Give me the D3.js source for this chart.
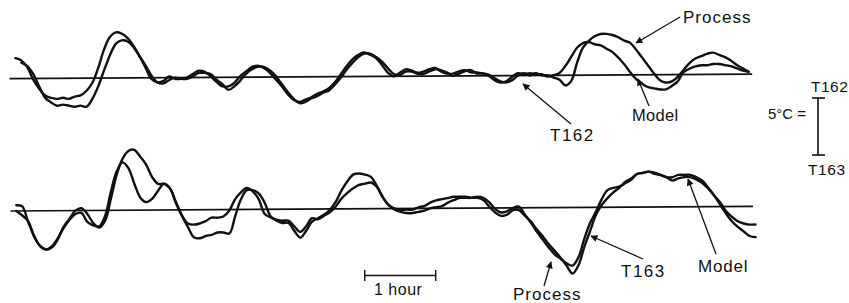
<!DOCTYPE html>
<html>
<head>
<meta charset="utf-8">
<script src="https://cdn.jsdelivr.net/npm/d3@7"></script>
<style>
  body { margin: 0; background: #fff; }
  text { font-family: 'Liberation Sans', Arial, sans-serif; fill: #111; }
</style>
</head>
<body>
<script>
// time axis, minutes, one reading every 5 min
var minutes = d3.range(0, 635, 5)

// temperature deviation from set point, deg C
// upper panel: thermocouple T162
var t162Model = [null,
  1.8, 1.6, 1.0, -0.1, -0.9, -1.5, -1.7, -1.8, -1.7, -1.8,
  -1.6, -1.5, -1.1, -0.4, 0.9, 2.5, 3.6, 4.0, 3.9, 3.5,
  2.8, 1.9, 0.9, -0.1, -0.4, -0.3, 0.1, -0.1, -0.1, 0.0,
  0.3, 0.6, 0.5, 0.1, -0.4, -0.8, -0.8, -0.5, 0.1, 0.5,
  0.9, 1.0, 0.8, 0.4, -0.2, -0.8, -1.5, -2.0, -2.2, -2.0,
  -1.8, -1.5, -1.3, -1.0, -0.5, 0.2, 0.9, 1.5, 1.9, 2.1,
  1.9, 1.6, 1.0, 0.3, 0.0, 0.3, 0.6, 0.5, 0.3, 0.4,
  0.6, 0.7, 0.4, 0.2, 0.2, 0.4, 0.5, 0.3, 0.3, 0.2,
  0.0, -0.4, -0.6, -0.5, -0.1, 0.2, 0.1, 0.2, 0.1, 0.1,
  -0.1, 0.0, 0.2, 0.8, 1.6, 2.4, 2.8, 2.9, 2.7, 2.6,
  2.3, 2.0, 1.5, 0.9, 0.2, -0.4, -0.8, -1.1, -1.2, -1.3,
  -1.3, -1.0, -0.6, 0.2, 0.5, 0.7, 0.8, 0.8, 0.9, 0.9,
  0.8, 0.7, 0.5, 0.3, 0.2, null]

var t162Process = [null,
  null, 1.4, 1.1, 0.4, -0.7, -1.7, -2.1, -2.4, -2.3, -2.4,
  -2.5, -2.4, -2.5, -1.8, -0.7, 0.7, 2.0, 3.0, 3.3, 3.2,
  2.7, 1.9, 1.1, 0.2, -0.4, -0.5, -0.2, 0.0, -0.1, -0.1,
  0.1, 0.4, 0.4, 0.3, -0.2, -0.6, -1.1, -0.8, -0.3, 0.3,
  0.7, 0.9, 0.9, 0.6, 0.1, -0.6, -1.3, -1.9, -2.3, -2.2,
  -1.9, -1.7, -1.4, -1.2, -0.7, -0.1, 0.6, 1.2, 1.7, 2.0,
  2.0, 1.7, 1.3, 0.7, 0.2, 0.1, 0.4, 0.4, 0.2, 0.2,
  0.4, 0.6, 0.5, 0.3, 0.0, 0.2, 0.4, 0.5, 0.2, 0.2,
  0.1, -0.2, -0.5, -0.6, -0.4, 0.0, 0.2, 0.0, 0.2, 0.0,
  0.0, -0.2, -0.4, -0.9, -0.5, 1.1, 2.4, 3.0, 3.4, 3.6,
  3.6, 3.5, 3.3, 3.0, 2.8, 2.2, 1.5, 0.8, 0.1, -0.5,
  -0.7, -0.6, -0.2, 0.4, 1.0, 1.4, 1.6, 1.8, 1.9, 1.7,
  1.5, 1.2, 0.8, 0.5, 0.2, null]

// lower panel: thermocouple T163
var t163Model = [null,
  0.0, -0.4, -0.9, -2.3, -3.1, -3.4, -3.1, -2.4, -1.5, -0.8,
  -0.3, -0.2, -1.0, -1.3, -1.4, -0.5, 1.6, 3.4, 4.2, 3.7,
  2.3, 1.1, 0.7, 1.0, 1.7, 2.3, 1.9, 0.6, -0.5, -1.2,
  -1.3, -1.2, -1.0, -0.7, -0.7, -0.6, -0.1, 0.9, 1.5, 1.9,
  1.6, 0.9, -0.4, -0.7, -0.9, -1.0, -1.0, -1.5, -2.0, -1.5,
  -0.8, -0.9, -0.6, -0.3, 0.2, 0.9, 1.4, 1.8, 2.1, 2.2,
  2.3, 1.9, 1.0, 0.3, -0.1, -0.3, -0.4, -0.4, -0.3, -0.2,
  0.0, 0.1, 0.2, 0.5, 0.7, 0.9, 0.9, 0.9, 1.0, 0.9,
  0.5, -0.1, -0.4, -0.3, 0.0, 0.1, -0.6, -1.3, -2.1, -2.8,
  -3.5, -4.1, -4.5, -4.9, -5.1, -4.4, -2.8, -1.4, -0.4, 0.7,
  1.5, 1.7, 1.8, 2.1, 2.4, 2.9, 3.0, 3.1, 2.9, 2.8,
  2.6, 2.6, 2.8, 2.8, 2.8, 2.6, 2.3, 1.7, 1.0, 0.4,
  -0.4, -0.9, -1.3, -1.5, -1.6, -1.6]

var t163Process = [null,
  0.5, 0.4, -1.0, -2.2, -3.1, -3.4, -3.2, -2.5, -1.4, -0.7,
  0.0, 0.2, -0.3, -1.1, -1.5, -0.9, 1.0, 3.1, 4.5, 5.2,
  5.3, 4.7, 4.0, 2.9, 2.3, 2.3, 1.9, 0.7, -0.5, -1.5,
  -2.4, -2.5, -2.3, -2.2, -2.0, -2.0, -2.1, -0.6, 0.9, 1.7,
  1.7, 1.4, 0.6, -0.6, -1.0, -1.2, -1.2, -1.9, -2.5, -1.9,
  -1.1, -0.8, -0.5, -0.1, 0.6, 1.6, 2.4, 3.0, 3.1, 3.0,
  2.8, 2.0, 1.0, 0.3, 0.0, -0.1, -0.1, -0.1, 0.1, 0.2,
  0.5, 0.7, 0.8, 0.9, 1.0, 1.0, 1.0, 0.9, 0.9, 0.7,
  0.1, -0.4, -0.7, -0.6, -0.2, -0.2, -0.7, -1.2, -1.9, -2.5,
  -3.2, -3.8, -4.4, -5.1, -5.8, -5.1, -3.5, -2.1, -0.7, 0.2,
  0.8, 1.3, 1.7, 2.2, 2.5, 2.9, 3.0, 3.1, 3.0, 2.8,
  2.6, 2.3, 2.5, 2.6, 2.6, 2.4, 2.1, 1.6, 1.0, 0.2,
  -0.6, -1.3, -1.8, -2.2, -2.6, -2.7]

var width = 849, height = 303
var degPx = 11.4  // 5 deg C bar is 57 px

var svg = d3.select('body').append('svg')
  .attr('width', width)
  .attr('height', height)

var defs = svg.append('defs')
defs.append('marker')
  .attr('id', 'head')
  .attr('viewBox', '0 0 10 10')
  .attr('refX', 9).attr('refY', 5)
  .attr('markerWidth', 9).attr('markerHeight', 7)
  .attr('markerUnits', 'userSpaceOnUse')
  .attr('orient', 'auto')
  .append('path')
  .attr('d', 'M0,0L10,5L0,10z')
  .attr('fill', '#111')

var x = d3.scaleLinear()
  .domain([0, 630])
  .range([10, 755])

var yTop = d3.scaleLinear()
  .domain([-6, 6])
  .range([78.7 + 6 * degPx, 78.7 - 6 * degPx])

var yBot = d3.scaleLinear()
  .domain([-6, 6])
  .range([211 + 6 * degPx, 211 - 6 * degPx])

// the original sheet sits slightly askew
var plot = svg.append('g')
  .attr('transform', 'rotate(-0.36, 10, 145)')

function drawPanel (y, series) {
  plot.append('line')
    .attr('x1', x(0)).attr('x2', x(628))
    .attr('y1', y(0)).attr('y2', y(0))
    .attr('stroke', '#111')
    .attr('stroke-width', 1.7)

  var line = d3.line()
    .defined(function (d) { return d != null })
    .x(function (d, i) { return x(minutes[i]) })
    .y(function (d) { return y(d) })
    .curve(d3.curveCatmullRom.alpha(0.5))

  series.forEach(function (s) {
    plot.append('path')
      .datum(s)
      .attr('d', line)
      .attr('fill', 'none')
      .attr('stroke', '#111')
      .attr('stroke-width', 2.4)
      .attr('stroke-linejoin', 'round')
      .attr('stroke-linecap', 'round')
  })
}

drawPanel(yTop, [t162Model, t162Process])
drawPanel(yBot, [t163Model, t163Process])

// labels and pointers
var notes = svg.append('g')

function label (tx, ty, str, size, spacing) {
  notes.append('text')
    .attr('x', tx).attr('y', ty)
    .style('font-size', size + 'px')
    .style('letter-spacing', (spacing || 0) + 'px')
    .text(str)
}

function pointer (x1, y1, x2, y2) {
  notes.append('line')
    .attr('x1', x1).attr('y1', y1)
    .attr('x2', x2).attr('y2', y2)
    .attr('stroke', '#111')
    .attr('stroke-width', 1.3)
    .attr('marker-end', 'url(#head)')
}

label(683, 22.5, 'Process', 17, 1)
pointer(680, 17, 636, 43)
label(632, 121, 'Model', 16.5, 0.3)
pointer(649, 106, 638, 79)
label(550, 141, 'T162', 17, 1.5)
pointer(571, 124, 523, 84)

label(513, 300, 'Process', 17, 1)
pointer(544, 286, 551, 262)
label(621, 277, 'T163', 17, 1.5)
pointer(643, 259, 591, 236)
label(698, 272, 'Model', 17, 0.8)
pointer(716, 254, 688, 179)

// one hour bar
var hour = notes.append('g')
hour.append('line')
  .attr('x1', x(300)).attr('x2', x(360))
  .attr('y1', 275.5).attr('y2', 275.5)
  .attr('stroke', '#111').attr('stroke-width', 1.4)
;[300, 360].forEach(function (t) {
  hour.append('line')
    .attr('x1', x(t)).attr('x2', x(t))
    .attr('y1', 270).attr('y2', 281)
    .attr('stroke', '#111').attr('stroke-width', 1.4)
})
label(374, 295, '1 hour', 16, 0.5)

// 5 deg C scale bar
var barLen = Math.abs(yTop(5) - yTop(0))
var barTop = 98
var scaleBar = notes.append('g')
scaleBar.append('line')
  .attr('x1', 818).attr('x2', 818)
  .attr('y1', barTop).attr('y2', barTop + barLen)
  .attr('stroke', '#111').attr('stroke-width', 1.6)
;[barTop, barTop + barLen].forEach(function (yy) {
  scaleBar.append('line')
    .attr('x1', 812).attr('x2', 825)
    .attr('y1', yy).attr('y2', yy)
    .attr('stroke', '#111').attr('stroke-width', 1.6)
})
label(811, 92, 'T162', 15.5, 0.5)
label(808, 175, 'T163', 15.5, 0.6)
label(768, 119, '5°C =', 15, 0)
</script>
</body>
</html>
